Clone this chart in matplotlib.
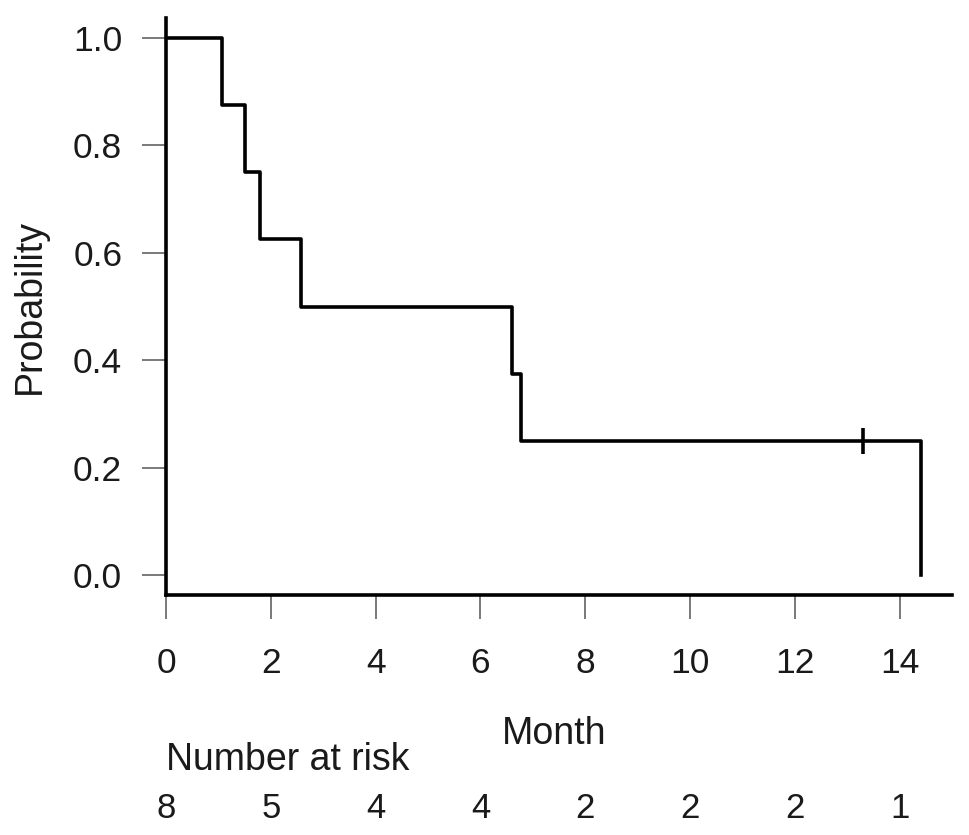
import matplotlib
matplotlib.use("Agg")
import matplotlib.pyplot as plt
from matplotlib.transforms import blended_transform_factory

plt.rcParams["font.family"] = ["Liberation Sans", "DejaVu Sans"]

# Survival data (months); event=1, censored=0
times = [1.07, 1.5, 1.8, 2.58, 6.6, 6.77, 13.3, 14.4]
events = [1, 1, 1, 1, 1, 1, 0, 1]

risk_times = [0, 2, 4, 6, 8, 10, 12, 14]
risk_counts = [8, 5, 4, 4, 2, 2, 2, 1]

x_ticks = [0, 2, 4, 6, 8, 10, 12, 14]
y_ticks = [0.0, 0.2, 0.4, 0.6, 0.8, 1.0]

TEXT_COLOR = "#1a1a1a"


def kaplan_meier(t_list, e_list):
    """Step coordinates and censor marks for a KM estimate."""
    surv = 1.0
    step_x = [0.0]
    step_y = [1.0]
    censor_x, censor_y = [], []
    at_risk = len(t_list)
    for t, e in sorted(zip(t_list, e_list)):
        if e:
            surv *= (at_risk - 1) / at_risk
            step_x.append(t)
            step_y.append(surv)
        else:
            censor_x.append(t)
            censor_y.append(surv)
        at_risk -= 1
    return step_x, step_y, censor_x, censor_y


sx, sy, cx, cy = kaplan_meier(times, events)

fig = plt.figure(figsize=(9.69, 8.35), dpi=100)
ax = fig.add_axes([0.1713, 0.2874, 0.8112, 0.691])

ax.step(sx, sy, where="post", color="black", linewidth=2.6)
ax.plot(cx, cy, linestyle="none", marker="|", markersize=19,
        markeredgewidth=2.6, color="black")

ax.set_xlim(0, 15)
ax.set_ylim(-0.037, 1.037)
ax.set_xticks(x_ticks)
ax.set_yticks(y_ticks)
ax.set_yticklabels([f"{v:.1f}" for v in y_ticks])

for side in ("top", "right"):
    ax.spines[side].set_visible(False)
for side in ("left", "bottom"):
    ax.spines[side].set_linewidth(2.6)
    ax.spines[side].set_color("black")

ax.tick_params(axis="both", direction="out", length=17.5, width=1.1,
               color="#555555", labelsize=25.5, labelcolor=TEXT_COLOR)
ax.tick_params(axis="x", pad=20)
ax.tick_params(axis="y", pad=14)

fig.text(30 / 969, 1 - 306 / 835, "Probability", rotation=90, fontsize=27,
         ha="center", va="center", color=TEXT_COLOR)

trans = blended_transform_factory(ax.transData, fig.transFigure)
ax.text(7.4, 1 - 734 / 835, "Month", transform=trans, fontsize=27,
        ha="center", va="center", color=TEXT_COLOR)
ax.text(0, 1 - 760 / 835, "Number at risk", transform=trans, fontsize=27,
        ha="left", va="center", color=TEXT_COLOR)
for t, n in zip(risk_times, risk_counts):
    ax.text(t, 1 - 808 / 835, str(n), transform=trans, fontsize=25,
            ha="center", va="center", color=TEXT_COLOR)

fig.savefig("out.png", dpi=100)
